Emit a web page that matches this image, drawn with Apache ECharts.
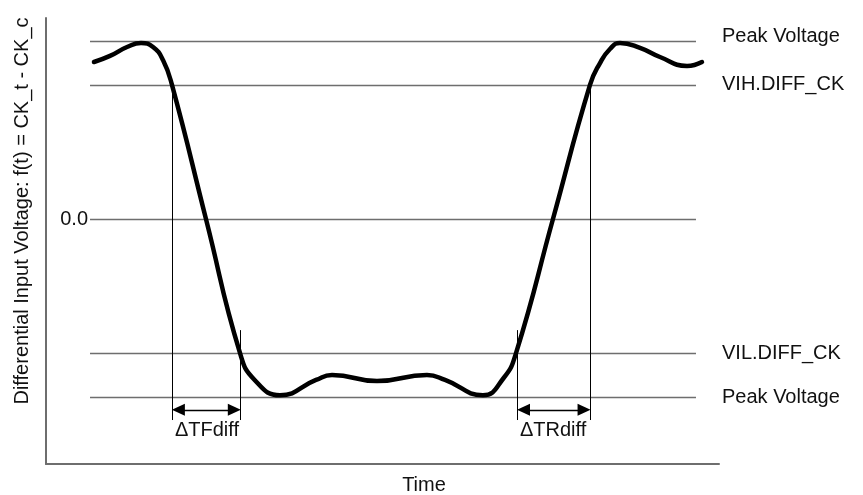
<!DOCTYPE html>
<html>
<head>
<meta charset="utf-8">
<script src="https://cdn.jsdelivr.net/npm/echarts@6/dist/echarts.min.js"></script>
<style>html,body{margin:0;padding:0;background:#fff;}#c{width:863px;height:495px;}</style>
</head>
<body>
<div id="c"></div>
<script>
// Time in % of window, voltage normalised to peak = 1
const times   = [7.13, 9.51, 12.04, 14.12, 15.90, 17.38, 18.72, 23.77, 28.83, 31.00, 34.77, 40.12, 42.50, 49.18, 56.61, 59.29, 64.93, 68.00, 69.84, 75.33, 80.83, 82.32, 83.80, 85.29, 88.26, 91.23, 95.25, 97.47];
const voltage = [0.882, 0.916, 0.966, 0.989, 0.966, 0.893, 0.753, 0, -0.753, -0.904, -0.99, -0.904, -0.876, -0.910, -0.876, -0.904, -0.99, -0.893, -0.753, 0, 0.753, 0.876, 0.955, 0.989, 0.961, 0.910, 0.860, 0.882];

const levelNames  = ['Peak Voltage', 'VIH.DIFF_CK', '0.0', 'VIL.DIFF_CK', 'Peak Voltage'];
const levelValues = [1.0, 0.753, 0, -0.753, -1.0];
const levelStart = 6.54, levelEnd = 96.58;

const crossTimes = [18.72, 28.93, 70.0, 80.9];          // threshold crossings
const crossTop   = [0.753, -0.624, -0.624, 0.753];
const crossBottom = -1.129;
const arrowY = -1.072;
const arrowHalf = 0.95;
const spanNames = ['ΔTFdiff', 'ΔTRdiff'];
const spanPos   = [[23.92, -1.185], [75.35, -1.185]];

const yMin = -1.376, yMax = 1.129;
const FONT = '"Liberation Sans", Arial, sans-serif';

const levelLines = levelNames.map((n, i) => {
  const isZero = n === '0.0';
  return [
    { coord: [levelStart, levelValues[i]], name: n,
      label: isZero ? { position: 'start', distance: 2 } : { position: 'end', distance: 26, offset: i === 0 ? [0, -4] : [0, 0] } },
    { coord: [levelEnd, levelValues[i]] }
  ];
});

const vLines = crossTimes.map((t, i) => [
  { coord: [t, crossTop[i]] }, { coord: [t, crossBottom] }
]);

const arrows = [
  [{ coord: [crossTimes[0] + arrowHalf, arrowY] }, { coord: [crossTimes[1] - arrowHalf, arrowY] }],
  [{ coord: [crossTimes[2] + arrowHalf, arrowY] }, { coord: [crossTimes[3] - arrowHalf, arrowY] }]
];

const chart = echarts.init(document.getElementById('c'));
chart.setOption({
  animation: false,
  grid: { left: 46, right: 144, top: 18, bottom: 31 },
  xAxis: { type: 'value', min: 0, max: 100,
    axisLine: { show: true, onZero: false, lineStyle: { color: '#6e6e6e', width: 2 } },
    axisTick: { show: false }, axisLabel: { show: false }, splitLine: { show: false } },
  yAxis: { type: 'value', min: yMin, max: yMax,
    axisLine: { show: true, onZero: false, lineStyle: { color: '#6e6e6e', width: 2 } },
    axisTick: { show: false }, axisLabel: { show: false }, splitLine: { show: false } },
  graphic: [
    { type: 'text', x: 22, y: 211, rotation: Math.PI / 2,
      style: { text: 'Differential Input Voltage: f(t) = CK_t - CK_c', font: '20px ' + FONT,
        fill: '#111', textAlign: 'center', textVerticalAlign: 'middle' } },
    { type: 'text', x: 424, y: 485,
      style: { text: 'Time', font: '20px ' + FONT,
        fill: '#111', textAlign: 'center', textVerticalAlign: 'middle' } }
  ],
  series: [
    { type: 'line', data: [], silent: true,
      markLine: { silent: true, symbol: 'none', animation: false,
        lineStyle: { color: '#6e6e6e', width: 1.3, type: 'solid' },
        label: { show: true, formatter: '{b}', color: '#111', fontSize: 20, fontFamily: FONT },
        data: levelLines } },
    { type: 'line', data: [], silent: true,
      markLine: { silent: true, symbol: 'none', animation: false,
        lineStyle: { color: '#000', width: 1, type: 'solid' }, label: { show: false },
        data: vLines } },
    { type: 'line', data: [], silent: true,
      markLine: { silent: true, symbol: ['triangle', 'triangle'], symbolSize: [12, 13], animation: false,
        lineStyle: { color: '#000', width: 1.3, type: 'solid' }, itemStyle: { color: '#000' }, label: { show: false },
        data: arrows } },
    { type: 'line', data: times.map((t, i) => [t, voltage[i]]), smooth: 0.5, showSymbol: false,
      lineStyle: { color: '#000', width: 4.5, cap: 'round', join: 'round' }, z: 5 },
    { type: 'scatter', symbolSize: 0, silent: true, itemStyle: { color: '#000', opacity: 1 },
      data: spanNames.map((n, i) => ({ name: n, value: spanPos[i] })),
      label: { show: true, position: 'inside', formatter: '{b}', color: '#111', opacity: 1, textBorderWidth: 0,
        fontSize: 20, fontFamily: FONT } }
  ]
});
</script>
</body>
</html>
